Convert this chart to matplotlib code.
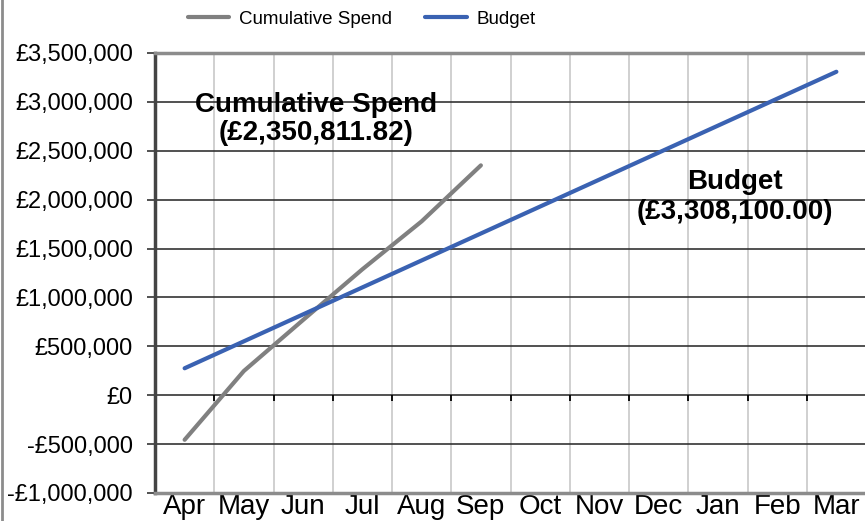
import numpy as np
import matplotlib.pyplot as plt
from matplotlib.lines import Line2D
from matplotlib.ticker import FuncFormatter

plt.rcParams['font.family'] = ['Liberation Sans', 'DejaVu Sans']

# Data
months = ['Apr', 'May', 'Jun', 'Jul', 'Aug', 'Sep', 'Oct', 'Nov', 'Dec', 'Jan', 'Feb', 'Mar']
spend = [-456000, 248000, 770000, 1288000, 1778000, 2350811.82]
budget = [275675, 551350, 827025, 1102700, 1378375, 1654050,
          1929725, 2205400, 2481075, 2756750, 3032425, 3308100]

grey = '#808080'
blue = '#3A62B2'

fig = plt.figure(figsize=(8.65, 5.21), dpi=100)
ax = fig.add_axes([155 / 865, 1 - 493 / 521, 711 / 865, 440 / 521])

x = np.arange(len(months))
ax.plot(x[:len(spend)], spend, color=grey, lw=3, label='Cumulative Spend',
        solid_capstyle='round', zorder=3)
ax.plot(x, budget, color=blue, lw=3, label='Budget', solid_capstyle='round', zorder=3)

ax.set_xlim(-0.5, len(months) - 0.5)
ax.set_ylim(-1000000, 3500000)
ax.set_yticks(np.arange(-1000000, 3500001, 500000))
ax.yaxis.set_major_formatter(FuncFormatter(
    lambda v, p: ('-' if v < 0 else '') + '£{:,.0f}'.format(abs(v))))

ax.set_xticks(x)
ax.set_xticklabels(months, fontsize=20)
ax.set_xticks(x[:-1] + 0.5, minor=True)
ax.tick_params(axis='x', which='both', length=0, pad=1)
ax.tick_params(axis='y', labelsize=17, length=6, width=1.2, color='#333333', pad=10)

ax.grid(axis='y', color='#333333', lw=1.2)
ax.grid(axis='x', which='minor', color='#c8c8c8', lw=1.2)
ax.set_axisbelow(True)

# tick marks on the zero line between categories
ax.vlines(x[:-1] + 0.5, -62000, 0, colors='black', lw=1.3, zorder=2)

for s in ['top', 'bottom']:
    ax.spines[s].set_color('#8c8c8c')
    ax.spines[s].set_linewidth(2.5)
ax.spines['right'].set_visible(False)
ax.spines['left'].set_color('#444444')
ax.spines['left'].set_linewidth(2.5)

ax.text(2.22, 2830000, 'Cumulative Spend\n(£2,350,811.82)', ha='center', va='center',
        fontsize=20, fontweight='bold', linespacing=1.1)
ax.text(9.28, 2030000, 'Budget\n(£3,308,100.00)', ha='center', va='center',
        fontsize=20, fontweight='bold', linespacing=1.2)

fig.legend(loc='center', bbox_to_anchor=(0.418, 0.963), ncol=2, frameon=False,
           fontsize=13.5, handlelength=2.2, handletextpad=0.5, columnspacing=1.8)

fig.add_artist(Line2D([0.0025, 0.0025], [0, 1], color='#8c8c8c', lw=2))

fig.savefig('out.png', dpi=100)
